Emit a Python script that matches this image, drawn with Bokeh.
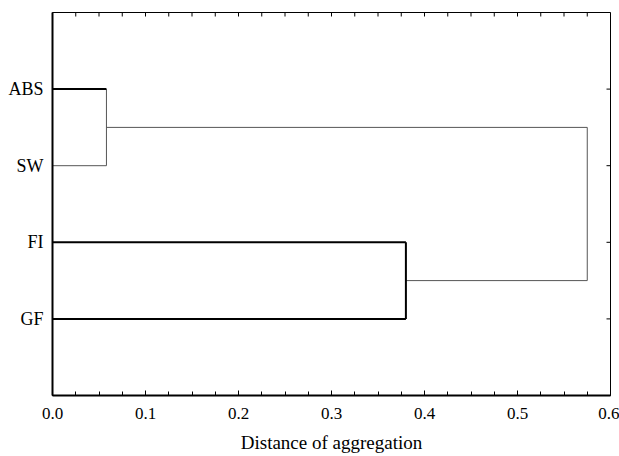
import math
from bokeh.plotting import figure
from bokeh.models import LinearAxis, FixedTicker, Range1d, ColumnDataSource
from bokeh.embed import file_html
from bokeh.resources import INLINE

# Data
leaves = ["ABS", "SW", "FI", "GF"]
merge_abs_sw = 0.058
merge_fi_gf = 0.38
merge_root = 0.575
x_ticks = [0.0, 0.1, 0.2, 0.3, 0.4, 0.5, 0.6]
x_minor_step = 0.025
x_label = "Distance of aggregation"

# positions of leaves (top to bottom)
ypos = {name: len(leaves) - i for i, name in enumerate(leaves)}
y_ab = (ypos["ABS"] + ypos["SW"]) / 2
y_fg = (ypos["FI"] + ypos["GF"]) / 2

thick = dict(x0=[0, 0, 0, merge_fi_gf],
             y0=[ypos["ABS"], ypos["FI"], ypos["GF"], ypos["FI"]],
             x1=[merge_abs_sw, merge_fi_gf, merge_fi_gf, merge_fi_gf],
             y1=[ypos["ABS"], ypos["FI"], ypos["GF"], ypos["GF"]])
thin = dict(x0=[0, merge_abs_sw, merge_abs_sw, merge_fi_gf, merge_root],
            y0=[ypos["SW"], ypos["ABS"], y_ab, y_fg, y_ab],
            x1=[merge_abs_sw, merge_abs_sw, merge_root, merge_root, merge_root],
            y1=[ypos["SW"], ypos["SW"], y_ab, y_fg, y_fg])

FONT = "Liberation Serif"
x_max = x_ticks[-1]
y_max = len(leaves) + 1

p = figure(width=619, height=456, output_backend="svg", toolbar_location=None,
           x_range=Range1d(0, x_max), y_range=Range1d(0, y_max),
           x_axis_location=None, y_axis_location=None,
           min_border_left=52, min_border_right=9, min_border_top=12, min_border_bottom=61)
p.outline_line_color = "black"
p.outline_line_width = 1
p.grid.visible = False
p.background_fill_color = "white"

p.segment("x0", "y0", "x1", "y1", source=ColumnDataSource(thin), line_color="#555555", line_width=1)
p.segment("x0", "y0", "x1", "y1", source=ColumnDataSource(thick), line_color="black", line_width=2)

n_minor = int(round(x_max / x_minor_step)) + 1
minor = [i * x_minor_step for i in range(n_minor)]
xt = FixedTicker(ticks=x_ticks, minor_ticks=minor)
yt = FixedTicker(ticks=[ypos[n] for n in leaves])

# inward ticks on the top and right frame edges (clipped to the frame)
p.scatter(x=minor, y=[y_max] * len(minor), marker="dash", angle=math.pi / 2,
          size=8, line_color="black", line_width=1)
p.scatter(x=[x_max] * len(leaves), y=[ypos[n] for n in leaves], marker="dash",
          size=8, line_color="black", line_width=1)

bottom = LinearAxis(ticker=xt, axis_label=x_label)
bottom.major_label_overrides = {t: f"{t:.1f}" for t in x_ticks}
bottom.axis_line_width = 2
bottom.axis_line_color = "black"
bottom.major_tick_in = 5
bottom.major_tick_out = 0
bottom.minor_tick_in = 4
bottom.minor_tick_out = 0
bottom.major_tick_line_color = "black"
bottom.minor_tick_line_color = "black"
bottom.major_label_text_font = FONT
bottom.major_label_text_font_size = "17px"
bottom.major_label_text_color = "black"
bottom.major_label_standoff = 12
bottom.axis_label_text_font = FONT
bottom.axis_label_text_font_size = "19px"
bottom.axis_label_text_font_style = "normal"
bottom.axis_label_text_color = "black"
bottom.axis_label_standoff = 10
p.add_layout(bottom, "below")

left = LinearAxis(ticker=yt)
left.major_label_overrides = {ypos[n]: n for n in leaves}
left.axis_line_width = 2
left.axis_line_color = "black"
left.major_tick_in = 0
left.major_tick_out = 0
left.minor_tick_line_color = None
left.major_label_text_font = FONT
left.major_label_text_font_size = "18px"
left.major_label_text_color = "black"
left.major_label_standoff = 9
p.add_layout(left, "left")

open("out.html", "w").write(file_html(p, INLINE))
